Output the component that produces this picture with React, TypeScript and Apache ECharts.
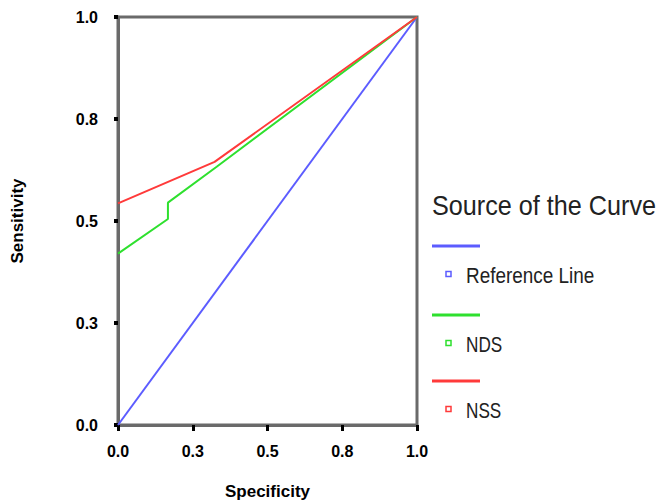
import React, { useEffect, useRef } from "react";
import * as echarts from "echarts";

const seriesNames = ["Reference Line", "NDS", "NSS"];
const seriesColors = ["#5c5cff", "#2ee02e", "#ff3a3a"];
const refX = [0, 1];
const refY = [0, 1];
const ndsX = [0, 0.167, 0.167, 0.33, 1];
const ndsY = [0.42, 0.505, 0.545, 0.633, 1];
const nssX = [0, 0.323, 1];
const nssY = [0.543, 0.645, 1];
const tickValues = [0, 0.25, 0.5, 0.75, 1];
const tickLabels = ["0.0", "0.3", "0.5", "0.8", "1.0"];
const legendTitle = "Source of the Curve";

const zip = (xs: number[], ys: number[]) => xs.map((x, i) => [x, ys[i]]);

export default function App() {
  const ref = useRef<HTMLDivElement>(null);
  useEffect(() => {
    const chart = echarts.init(ref.current!, null, { renderer: "svg" });
    const fmt = (v: number) => {
      const i = tickValues.findIndex((t) => Math.abs(t - v) < 1e-9);
      return i >= 0 ? tickLabels[i] : "";
    };
    const axisCommon = {
      type: "value" as const,
      min: 0,
      max: 1,
      interval: 0.25,
      splitLine: { show: false },
      axisLine: { show: true, lineStyle: { color: "#6a6a6a", width: 3 } },
      axisTick: { show: true, length: 6, lineStyle: { color: "#000", width: 3 } },
      axisLabel: {
        formatter: fmt,
        color: "#000",
        fontWeight: "bold" as const,
        fontSize: 16,
        fontFamily: "Liberation Sans, Arial, sans-serif",
      },
      nameLocation: "middle" as const,
      nameTextStyle: {
        color: "#000",
        fontWeight: "bold" as const,
        fontSize: 17,
        fontFamily: "Liberation Sans, Arial, sans-serif",
      },
    };
    const legendFont = "Liberation Sans, Arial, sans-serif";
    const legendItems: any[] = [];
    const lineYs = [246, 315, 381];
    const textScale = [0.86, 0.78, 0.78];
    seriesNames.forEach((name, i) => {
      const ly = lineYs[i];
      legendItems.push({
        type: "line",
        shape: { x1: 432, y1: ly, x2: 480, y2: ly },
        style: { stroke: seriesColors[i], lineWidth: 3 },
      });
      legendItems.push({
        type: "rect",
        shape: { x: 446, y: ly + 25.5, width: 5, height: 5 },
        style: { fill: "#fff", stroke: seriesColors[i], lineWidth: 1.5 },
      });
      legendItems.push({
        type: "text",
        x: 466,
        y: ly + 29,
        scaleX: textScale[i],
        style: {
          text: name,
          fontSize: 22,
          fontFamily: legendFont,
          fill: "#222",
          verticalAlign: "middle",
        },
      });
    });
    legendItems.push({
      type: "text",
      x: 432,
      y: 206,
      scaleX: 0.9,
      style: {
        text: legendTitle,
        fontSize: 28,
        fontFamily: legendFont,
        fill: "#222",
        verticalAlign: "middle",
      },
    });
    chart.setOption({
      animation: false,
      grid: {
        left: 118,
        top: 17,
        right: 241,
        bottom: 78,
        containLabel: false,
        outerBoundsMode: "none",
        show: true,
        borderColor: "#6a6a6a",
        borderWidth: 3,
        backgroundColor: "#fff",
      },
      xAxis: {
        ...axisCommon,
        name: "Specificity",
        nameGap: 58,
        axisLabel: { ...axisCommon.axisLabel, margin: 18 },
      },
      yAxis: {
        ...axisCommon,
        name: "Sensitivity",
        nameGap: 92,
        axisTick: { show: true, length: 4, lineStyle: { color: "#000", width: 4 } },
        axisLabel: { ...axisCommon.axisLabel, margin: 20 },
      },
      series: [
        { name: seriesNames[0], type: "line", data: zip(refX, refY) },
        { name: seriesNames[1], type: "line", data: zip(ndsX, ndsY) },
        { name: seriesNames[2], type: "line", data: zip(nssX, nssY) },
      ].map((s, i) => ({
        ...s,
        showSymbol: false,
        symbol: "none",
        lineStyle: { color: seriesColors[i], width: 2 },
        itemStyle: { color: seriesColors[i] },
        z: 3,
      })),
      graphic: legendItems,
    });
    return () => chart.dispose();
  }, []);
  return (
    <div
      ref={ref}
      style={{ position: "fixed", left: 0, top: 0, width: 658, height: 503, background: "#fff" }}
    />
  );
}
